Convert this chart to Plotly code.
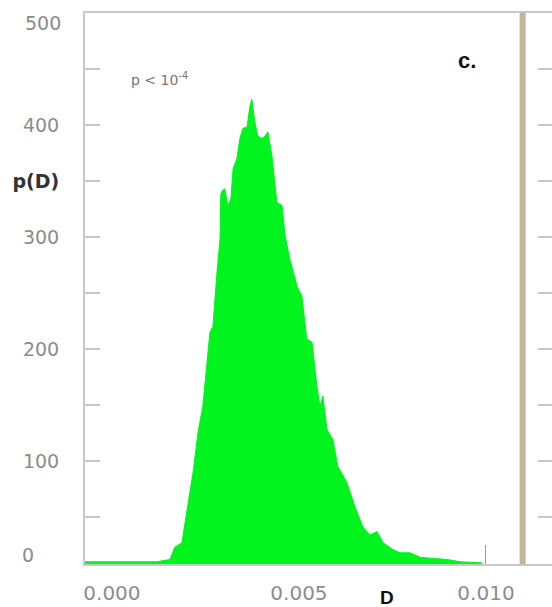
import plotly.graph_objects as go

# Histogram outline (D vs p(D))
D_values = [-0.00072, 0.00120, 0.00155, 0.00168, 0.00187, 0.00201, 0.00217, 0.00230,
            0.00243, 0.00262, 0.00270, 0.00281, 0.00289, 0.00291, 0.00294, 0.00302,
            0.00310, 0.00318, 0.00324, 0.00334, 0.00342, 0.00350, 0.00361, 0.00369,
            0.00374, 0.00382, 0.00390, 0.00401, 0.00409, 0.00417, 0.00428, 0.00441,
            0.00455, 0.00463, 0.00476, 0.00495, 0.00508, 0.00521, 0.00535, 0.00548,
            0.00556, 0.00564, 0.00575, 0.00591, 0.00604, 0.00628, 0.00650, 0.00671,
            0.00690, 0.00709, 0.00725, 0.00751, 0.00770, 0.00797, 0.00824, 0.00858,
            0.00896, 0.00931, 0.00989, 0.00992]
pD_values = [10, 10, 12, 23, 27, 56, 90, 125,
             149, 215, 220, 269, 298, 338, 341, 343,
             328, 334, 361, 370, 388, 397, 398, 417,
             423, 403, 390, 388, 390, 394, 372, 331,
             328, 301, 280, 256, 247, 209, 206, 167,
             149, 158, 128, 119, 95, 81, 59, 41,
             34, 37, 27, 21, 18, 18, 14, 13,
             12, 10, 9, 0]

y_tick_vals = [100, 200, 300, 350, 400]
y_tick_text = ["100", "200", "300",
               "<b><span style='color:#333333'>p(D)</span></b>", "400"]
y_minor_tick_vals = [50, 150, 250, 450]
x_tick_vals = [0.0, 0.005, 0.010]
x_tick_text = ["0.000", "0.005", "0.010"]
right_panel_ticks = [50, 100, 150, 200, 250, 300, 350, 400, 450]

GREEN = "#02f41e"
AXIS = "#c8c8c8"
LABEL = "#8c8c8c"
FONT = "DejaVu Sans"
YTICKSIZE = 19
XTICKSIZE = 20

fig = go.Figure()
fig.add_trace(go.Scatter(
    x=D_values, y=pD_values, mode="lines",
    line=dict(color=GREEN, width=1),
    fill="tozeroy", fillcolor=GREEN, hoverinfo="skip"))

# tan separator bar
fig.add_shape(type="line", xref="x", yref="paper", x0=0.01098, x1=0.01098, y0=0, y1=1,
              line=dict(color="#c3b59c", width=6))
# ticks of neighbouring panel at the right edge
for v in right_panel_ticks:
    fig.add_shape(type="line", xref="paper", yref="y", x0=0.970, x1=1.0, y0=v, y1=v,
                  line=dict(color=AXIS, width=2))

fig.update_layout(
    width=552, height=607,
    margin=dict(l=85, r=0, t=13, b=43),
    plot_bgcolor="white", paper_bgcolor="white",
    showlegend=False,
    font=dict(family=FONT, color=LABEL),
    xaxis=dict(
        range=[-0.00072, 0.011765], showgrid=False, zeroline=False,
        showline=True, linecolor=AXIS, linewidth=2, mirror=True,
        tickmode="array", tickvals=x_tick_vals, ticktext=x_tick_text,
        ticks="", tickfont=dict(family=FONT, size=XTICKSIZE, color=LABEL),
        ticklabelstandoff=10, automargin=False, layer="below traces",
        minor=dict(tickmode="array", tickvals=[0.010], ticks="inside",
                   ticklen=19, tickwidth=1, tickcolor="#999999"),
    ),
    yaxis=dict(
        range=[8, 500], showgrid=False, zeroline=False,
        showline=True, linecolor=AXIS, linewidth=2,
        tickmode="array", tickvals=y_tick_vals, ticktext=y_tick_text,
        ticks="inside", ticklen=15, tickwidth=2, tickcolor=AXIS,
        tickfont=dict(family=FONT, size=YTICKSIZE, color=LABEL),
        ticklabelstandoff=20, automargin=False,
        minor=dict(tickmode="array", tickvals=y_minor_tick_vals, ticks="inside",
                   ticklen=15, tickwidth=2, tickcolor=AXIS),
    ),
    annotations=[
        dict(text="500", xref="paper", yref="y", x=0, y=491, xanchor="right",
             xshift=-22, showarrow=False, font=dict(family=FONT, size=YTICKSIZE, color=LABEL)),
        dict(text="0", xref="paper", yref="y", x=0, y=16, xanchor="left",
             xshift=-65, showarrow=False, font=dict(family=FONT, size=YTICKSIZE, color=LABEL)),
        dict(text="p < 10<sup>-4</sup>", xref="paper", yref="y", x=0, y=441,
             xanchor="left", xshift=44, showarrow=False,
             font=dict(family=FONT, size=14, color="#777777")),
        dict(text="<b>c.</b>", xref="paper", yref="y", x=0, y=458, xanchor="center",
             xshift=382, showarrow=False,
             font=dict(family="Liberation Sans", size=22, color="#111111")),
        dict(text="<b>D</b>", xref="x", yref="paper", x=0.00735, y=0, yanchor="middle",
             yshift=-33, showarrow=False,
             font=dict(family="Liberation Sans", size=19, color="#111111")),
    ],
)

fig.write_html(
    "out.html",
    config={"displayModeBar": False},
    post_script="document.body.style.margin='0';document.body.style.overflow='hidden';",
)
